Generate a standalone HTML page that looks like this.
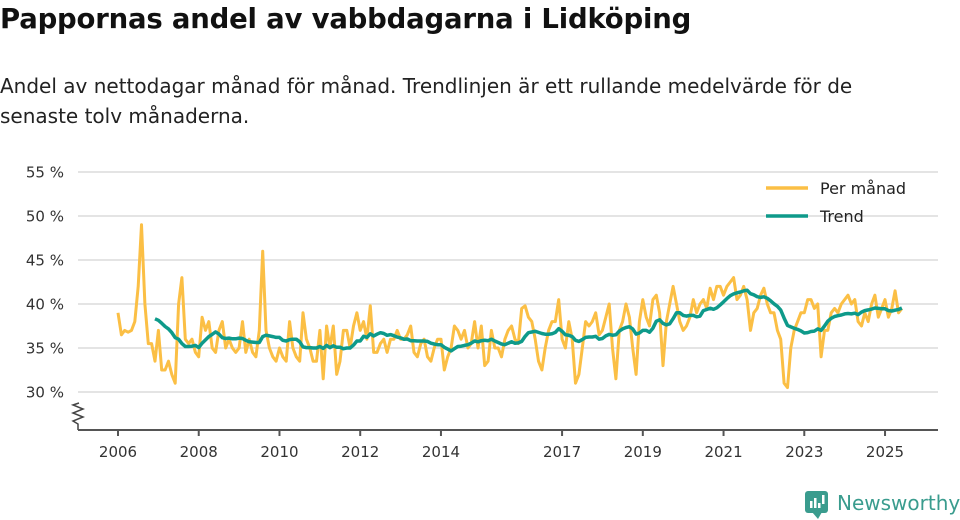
<!DOCTYPE html>
<html><head><meta charset="utf-8">
<style>
body{margin:0;background:#fff;width:960px;height:520px;overflow:hidden;font-family:"DejaVu Sans","Liberation Sans",sans-serif;}
#title{position:absolute;left:0;top:3px;font-size:27.5px;font-weight:bold;color:#111;margin:0;letter-spacing:-0.2px;}
#sub{position:absolute;left:0;top:71px;font-size:20px;line-height:30px;color:#222;width:930px;}
svg{position:absolute;left:0;top:0;}
</style></head><body>
<h1 id="title">Pappornas andel av vabbdagarna i Lidköping</h1>
<div id="sub">Andel av nettodagar månad för månad. Trendlinjen är ett rullande medelvärde för de senaste tolv månaderna.</div>
<svg id="chart" width="960" height="520"></svg>
<script>
const yTicks=[30,35,40,45,50,55];
const xTickYears=[2006,2008,2010,2012,2014,2017,2019,2021,2023,2025];
const startYear=2006;
const monthly=[
39,36.5,37,36.8,37,38,42,49,40,35.5,35.5,33.5,
37,32.5,32.5,33.5,32,31,40,43,36,35.5,36,34.5,
34,38.5,37,38,35,34.5,37,38,35,36,35,34.5,
35,38,34.5,36,34.5,34,37,46,37,35,34,33.5,
35,34,33.5,38,35,34,33.5,39,36,35,33.5,33.5,
37,31.5,37.5,35,37.5,32,33.5,37,37,35,37.5,39,
37,38,36,39.8,34.5,34.5,35.5,36,34.5,36,36,37,
36,36,36.5,37.5,34.5,34,35.5,36,34,33.5,35,36,
36,32.5,34,35,37.5,37,36,37,35,35.5,38,35,
37.5,33,33.5,37,35,35,34,36,37,37.5,36,35.5,
39.5,39.8,38.5,38,36,33.5,32.5,35,37,38,38,40.5,
36,35,38,36,31,32,35,38,37.5,38,39,36.5,
37,38.5,40,35,31.5,37,38,40,38.5,35,32,38,
40.5,38.5,37.5,40.5,41,39,33,38,40,42,40,38,
37,37.5,38.5,40.5,39,40,40.5,39.5,41.8,40.5,42,42,
41,42,42.5,43,40.5,41,42,40.5,37,39,39.5,41,
41.8,40,39,39,37,36,31,30.5,35,37,38,39,
39,40.5,40.5,39.5,40,34,37,37,39,39.5,39,40,
40.5,41,40,40.5,38,37.5,39,38,40,41,38.5,39.5,
40.5,38.5,39.5,41.5,39,39.5
];
const legendLabels=["Per månad","Trend"];

const svg=document.getElementById('chart');
const NS='http://www.w3.org/2000/svg';
const X0=78,X1=938;
function xs(t){return 118+(t-startYear)*40.37;}
function ys(v){return 392-(v-30)*8.8;}
function mk(tag,attrs,parent){const e=document.createElementNS(NS,tag);for(const k in attrs)e.setAttribute(k,attrs[k]);(parent||svg).appendChild(e);return e;}

yTicks.forEach(v=>{
  const l=mk('line',{x1:X0,x2:X1,y1:ys(v),y2:ys(v),stroke:'#dcdcdc','stroke-width':1.5});
  
  
  const t=mk('text',{x:64,y:ys(v)+5.5,'text-anchor':'end','font-size':15,fill:'#333'});
  t.textContent=v+' %';
  
  
});
const brk=mk('polyline',{points:'78,430 78,424 73,421 83,417 73,413 83,409 73,405 79,403',fill:'none',stroke:'#444','stroke-width':1.5});


const ax=mk('line',{x1:X0,x2:X1,y1:430,y2:430,stroke:'#555','stroke-width':2});


xTickYears.forEach(yr=>{
  const x=xs(yr);
  const tk=mk('line',{x1:x,x2:x,y1:430,y2:436,stroke:'#555','stroke-width':2});
  
  
  const t=mk('text',{x:x,y:457,'text-anchor':'middle','font-size':15,fill:'#333'});
  t.textContent=yr;
  
  
});
const mpts=monthly.map((v,i)=>xs(startYear+i/12).toFixed(1)+','+ys(v).toFixed(1)).join(' ');
const ml=mk('polyline',{points:mpts,fill:'none',stroke:'#fbbf45','stroke-width':3,'stroke-linejoin':'round'});


const tpts=[];
for(let i=11;i<monthly.length;i++){let s=0;for(let j=i-11;j<=i;j++)s+=monthly[j];tpts.push(xs(startYear+i/12).toFixed(1)+','+ys(s/12).toFixed(1));}
const tl=mk('polyline',{points:tpts.join(' '),fill:'none',stroke:'#0e9a8a','stroke-width':3.5,'stroke-linejoin':'round'});


const lcol=['#fbbf45','#0e9a8a'];
legendLabels.forEach((lab,i)=>{
  const y=188+i*28;
  const g=mk('g',{});
  
  
  mk('line',{x1:766,x2:808,y1:y,y2:y,stroke:lcol[i],'stroke-width':3.5},g);
  const t=mk('text',{x:820,y:y+6,'font-size':16,fill:'#222'},g);
  t.textContent=lab;
});
const logo=mk('g',{});


mk('rect',{x:805,y:491,width:23,height:22,rx:3,fill:'#3a9c8e'},logo);
mk('polygon',{points:'812,512 818,519 822,512',fill:'#3a9c8e'},logo);
mk('rect',{x:810,y:501,width:2.5,height:7,fill:'#fff'},logo);
mk('rect',{x:814,y:498,width:2.5,height:10,fill:'#fff'},logo);
mk('rect',{x:818,y:503,width:2.5,height:5,fill:'#fff'},logo);
mk('rect',{x:822,y:495,width:2.5,height:9,fill:'#fff'},logo);
const lt=mk('text',{x:837,y:510,'font-size':20,fill:'#3a9c8e'},logo);
lt.textContent='Newsworthy';
</script>
</body></html>
